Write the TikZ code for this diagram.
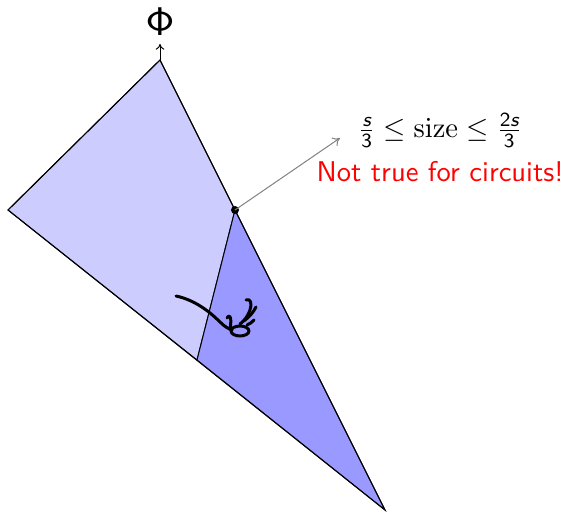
\documentclass[tikz,border=0pt]{standalone}
\usepackage{amsmath}
\usetikzlibrary{arrows.meta}
\begin{document}
\begin{tikzpicture}[x=0.35pt,y=-0.35pt,
  edge/.style={draw=black,line width=0.35pt,line join=miter},
  scribble/.style={draw=black,line width=1.05pt,line cap=round,line join=round}]
\useasboundingbox (0,0) rectangle (568,513);
\coordinate (top) at (160,60);
\coordinate (lft) at (8,210);
\coordinate (bot) at (385,510);
\coordinate (mid) at (235,210);
\coordinate (low) at (197,360);
\filldraw[edge,fill=blue!20] (top) -- (lft) -- (low) -- (mid) -- cycle;
\filldraw[edge,fill=blue!40] (mid) -- (low) -- (bot) -- cycle;
\draw[edge] (top) -- (lft) -- (bot) -- cycle;
% Phi
\node[inner sep=0pt,scale=1.4] (phi) at (160,22) {$\mathsf{\Phi}$};
\coordinate (phiarr) at (160,44);
\draw[line width=0.35pt,-{To[length=2pt,width=3pt]}] (top) -- (phiarr);
% dot and arrow
\fill (mid) circle (1.4pt);
\node[inner sep=0pt] (size) at (440,130) {$\frac{\textsf{\slshape s}}{\textsf{3}}\le\mathrm{size}\le\frac{\textsf{2\slshape s}}{\textsf{3}}$};
\node[inner sep=0pt,text=red,font=\sffamily] (nt) at (440,172) {Not true for circuits!};
\coordinate (arrend) at (340,138);
\draw[gray,line width=0.35pt,-{To[length=2.5pt,width=3.5pt]}] (mid) -- (arrend);
% scribble
\draw[scribble] (176,296) .. controls (195,300) and (210,312) .. (220,322) .. controls (225,327) and (229,329) .. (232,330);
\draw[scribble] (227,318) .. controls (230,313) and (232,318) .. (230,329);
\draw[scribble] (246,300) .. controls (251,298) and (252,304) .. (250,310) .. controls (248,316) and (244,321) .. (240,324);
\draw[scribble] (256,307) .. controls (253,313) and (249,317) .. (244,321);
\draw[scribble] (254,320) .. controls (252,322) and (250,324) .. (247,325);
\draw[scribble] (240,331) ellipse (9 and 5);
\end{tikzpicture}
\end{document}
